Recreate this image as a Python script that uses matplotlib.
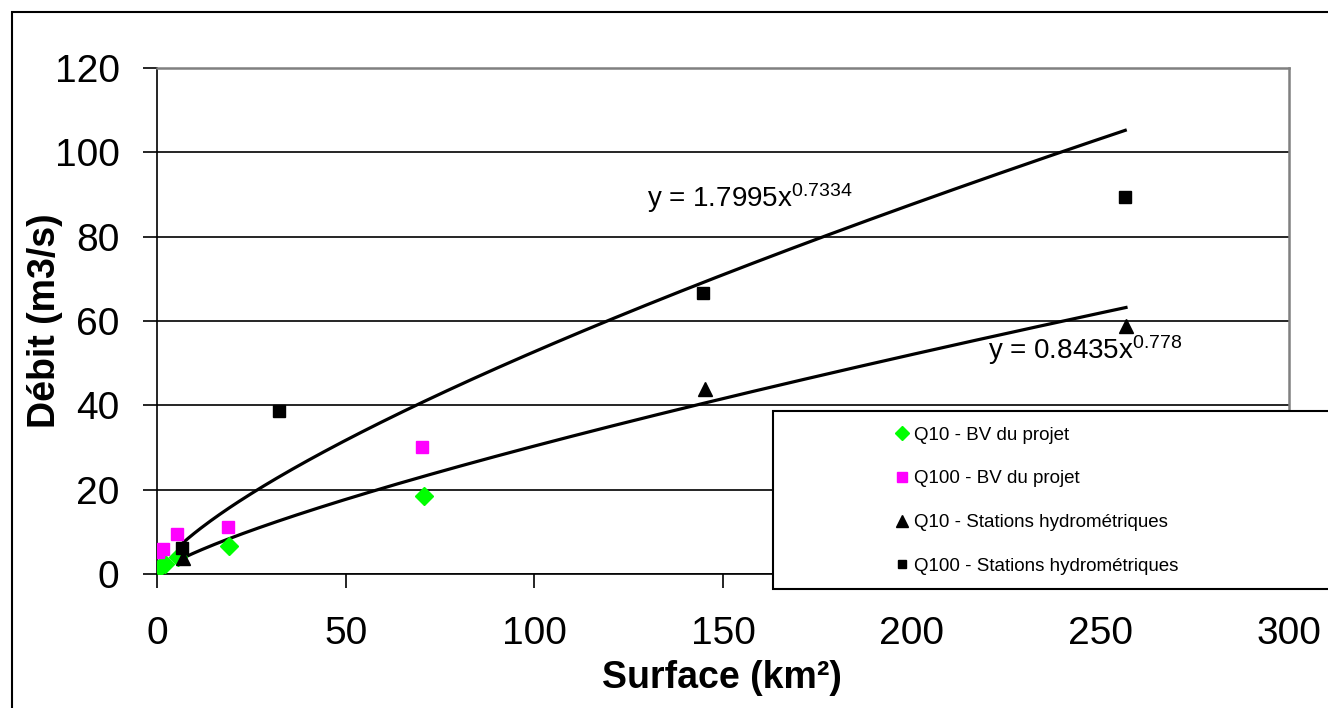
import matplotlib
matplotlib.use("Agg")
import matplotlib.pyplot as plt
from matplotlib.patches import Rectangle
import numpy as np

plt.rcParams['font.family'] = ['Liberation Sans', 'DejaVu Sans']
plt.rcParams['mathtext.fontset'] = 'custom'
plt.rcParams['mathtext.rm'] = 'Liberation Sans'
plt.rcParams['mathtext.it'] = 'Liberation Sans'

# Q10 - BV du projet
q10_bv_x = [0.8, 2.1, 5.6, 19.1, 70.8]
q10_bv_y = [1.7, 2.4, 4.0, 6.6, 18.6]
# Q100 - BV du projet
q100_bv_x = [0.3, 1.6, 5.3, 18.8, 70.2]
q100_bv_y = [5.2, 5.9, 9.5, 11.2, 30.2]
# Q10 - Stations hydrometriques
q10_st_x = [6.9, 145.2, 256.8]
q10_st_y = [3.8, 43.9, 58.8]
# Q100 - Stations hydrometriques
q100_st_x = [6.6, 32.3, 144.7, 256.6]
q100_st_y = [6.2, 38.7, 66.7, 89.4]

# power-law trendlines (coefficient, exponent) as printed on the chart
fit_q100 = (1.7995, 0.7334)
fit_q10 = (0.8435, 0.778)

labels = ["Q10 - BV du projet", "Q100 - BV du projet",
          "Q10 - Stations hydrométriques", "Q100 - Stations hydrométriques"]

W, H = 1328, 708
fig = plt.figure(figsize=(W / 100, H / 100), dpi=100)
ax = fig.add_axes([157 / W, 1 - 574 / H, (1289 - 157) / W, (574 - 68) / H])

# trendlines
xs = np.linspace(min(q100_st_x), max(q100_st_x), 300)
ax.plot(xs, fit_q100[0] * xs ** fit_q100[1], color="black", lw=2.3, zorder=3)
xs = np.linspace(min(q10_st_x), max(q10_st_x), 300)
ax.plot(xs, fit_q10[0] * xs ** fit_q10[1], color="black", lw=2.3, zorder=3)

h1, = ax.plot(q10_bv_x, q10_bv_y, "D", color="#00FF00", ms=9, ls="none", zorder=4)
h2, = ax.plot(q100_bv_x, q100_bv_y, "s", color="#FF00FF", ms=9, ls="none", zorder=4)
h3, = ax.plot(q10_st_x, q10_st_y, "^", color="black", ms=10, ls="none", zorder=4)
h4, = ax.plot(q100_st_x, q100_st_y, "s", color="black", ms=8, ls="none", zorder=4)

ax.set_xlim(0, 300)
ax.set_ylim(0, 120)
ax.set_xticks(np.arange(0, 301, 50))
ax.set_yticks(np.arange(0, 121, 20))
ax.yaxis.grid(True, color="black", lw=1.2)
ax.set_axisbelow(True)
ax.tick_params(axis="both", direction="out", length=10, width=1.2, labelsize=28, pad=17)
ax.tick_params(axis="x", pad=20)
for s in ["top", "right"]:
    ax.spines[s].set_color("#808080")
    ax.spines[s].set_linewidth(1.8)
for s in ["left", "bottom"]:
    ax.spines[s].set_color("black")
    ax.spines[s].set_linewidth(1.2)

ax.set_xlabel("Surface (km²)", fontsize=27, fontweight="bold", va="center")
ax.xaxis.set_label_coords((722 - 157) / 1132, (574 - 678) / 506)
ax.set_ylabel("Débit (m3/s)", fontsize=27, fontweight="bold", va="center")
ax.yaxis.set_label_coords((45 - 157) / 1132, 0.5)

fig.text(647 / W, 1 - 198 / H, "y = %.4fx$^{%s}$" % fit_q100, fontsize=20,
         va="center", ha="left")
fig.text(988 / W, 1 - 350 / H, "y = %.4fx$^{%s}$" % fit_q10, fontsize=20,
         va="center", ha="left")

# legend box (runs past the right edge in the original)
fig.patches.append(Rectangle((773 / W, 1 - 589 / H), 1.0, (589 - 411) / H,
                             transform=fig.transFigure, facecolor="white",
                             edgecolor="black", lw=1.5, zorder=5))
leg = fig.legend([h1, h2, h3, h4], labels, loc="upper left",
                 bbox_to_anchor=(889 / W, 1 - 419 / H), frameon=False,
                 fontsize=13.5, handlelength=0.6, handletextpad=0.35,
                 labelspacing=1.42, markerscale=0.8, borderaxespad=0)
leg.set_zorder(6)

# outer chart frame
fig.patches.append(Rectangle((12 / W, -0.1), 1.2, 0.1 + 1 - 12 / H,
                             transform=fig.transFigure, facecolor="none",
                             edgecolor="black", lw=1.5, zorder=0))

fig.savefig("out.png", dpi=100)
